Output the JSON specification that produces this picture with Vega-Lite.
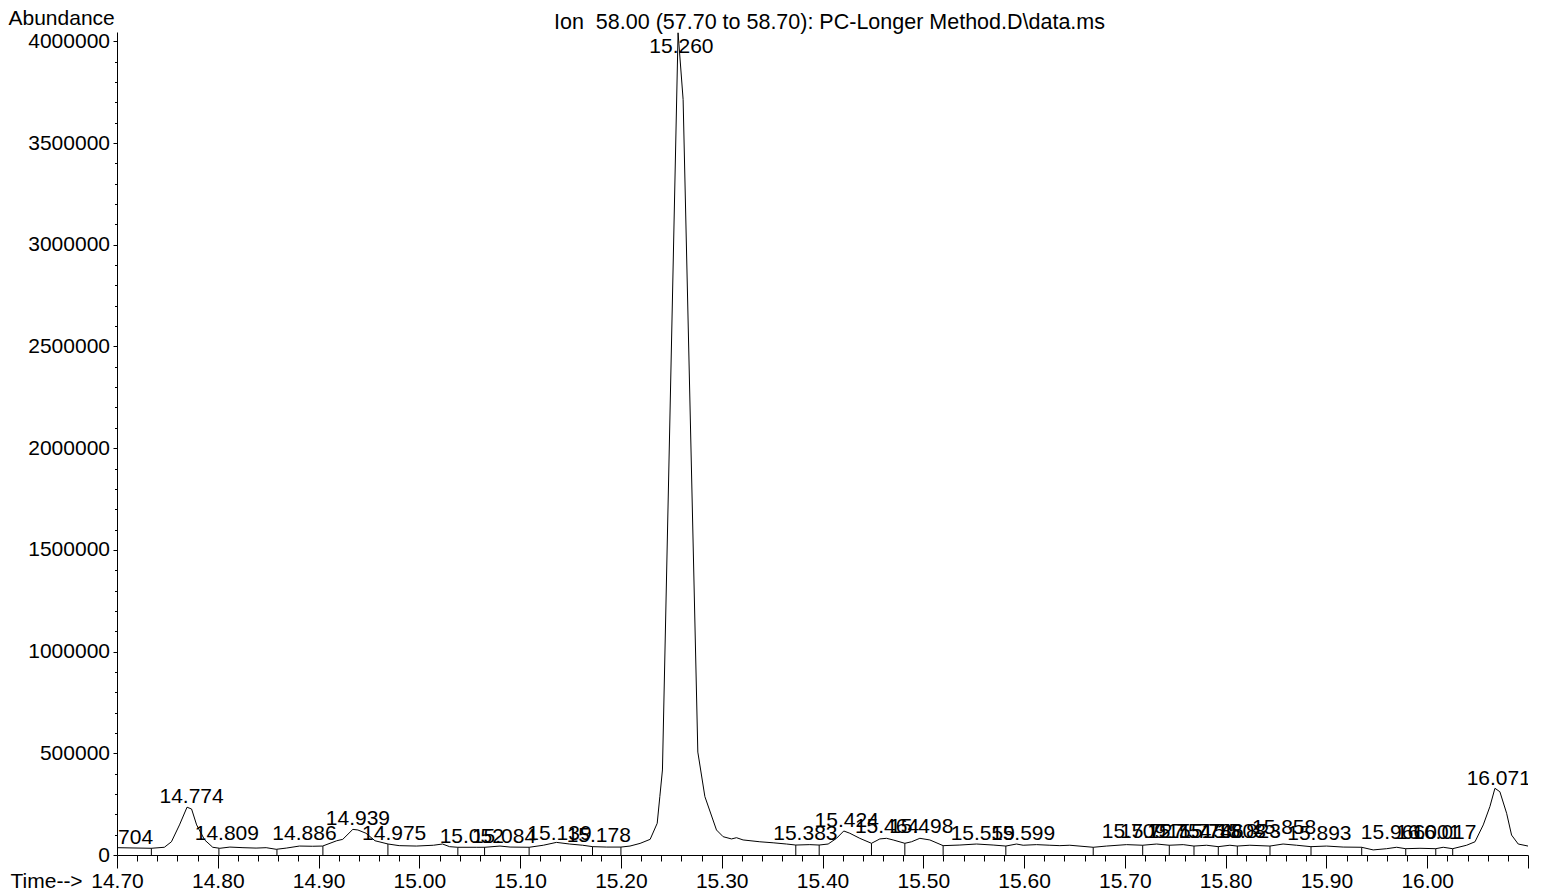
{
  "$schema": "https://vega.github.io/schema/vega-lite/v6.json",
  "width": 1411,
  "height": 823,
  "autosize": {"type": "none"},
  "padding": {"left": 117, "top": 32, "right": 23, "bottom": 39},
  "background": "white",
  "config": {"view": {"stroke": null}, "font": "Liberation Sans"},
  "title": {
    "text": "Ion\u00a0 58.00 (57.70 to 58.70): PC-Longer Method.D\\data.ms",
    "font": "Liberation Sans", "fontSize": 21.5, "fontWeight": "normal", "color": "black",
    "anchor": "middle", "frame": "group", "dx": 7, "dy": 43, "offset": 0, "baseline": "alphabetic"
  },
  "datasets": {
    "trace": [
      {"t":14.700,"a":36000},{"t":14.734,"a":33000},{"t":14.747,"a":38000},{"t":14.754,"a":65000},{"t":14.762,"a":148000},{"t":14.7695,"a":235000},{"t":14.774,"a":226000},{"t":14.779,"a":148000},{"t":14.787,"a":74000},{"t":14.795,"a":38000},{"t":14.802,"a":33000},{"t":14.812,"a":39000},{"t":14.825,"a":36000},{"t":14.838,"a":34000},{"t":14.848,"a":36000},{"t":14.858,"a":28000},{"t":14.868,"a":34000},{"t":14.881,"a":44000},{"t":14.894,"a":43000},{"t":14.904,"a":44000},{"t":14.918,"a":70000},{"t":14.924,"a":77000},{"t":14.934,"a":126000},{"t":14.939,"a":123000},{"t":14.947,"a":107000},{"t":14.956,"a":70000},{"t":14.969,"a":54000},{"t":14.980,"a":46000},{"t":14.997,"a":44000},{"t":15.014,"a":48000},{"t":15.023,"a":54000},{"t":15.030,"a":41000},{"t":15.038,"a":38000},{"t":15.057,"a":38000},{"t":15.065,"a":38000},{"t":15.080,"a":44000},{"t":15.090,"a":39000},{"t":15.109,"a":38000},{"t":15.123,"a":48000},{"t":15.136,"a":62000},{"t":15.149,"a":54000},{"t":15.162,"a":48000},{"t":15.172,"a":41000},{"t":15.186,"a":39000},{"t":15.200,"a":39000},{"t":15.209,"a":44000},{"t":15.219,"a":57000},{"t":15.229,"a":77000},{"t":15.236,"a":156000},{"t":15.2386,"a":287000},{"t":15.2412,"a":418000},{"t":15.2567,"a":4042000},{"t":15.2617,"a":3714000},{"t":15.2763,"a":506000},{"t":15.2833,"a":287000},{"t":15.2948,"a":123000},{"t":15.3014,"a":90000},{"t":15.3097,"a":79000},{"t":15.3147,"a":85000},{"t":15.3212,"a":74000},{"t":15.3378,"a":65000},{"t":15.3510,"a":60000},{"t":15.3643,"a":54000},{"t":15.3735,"a":49000},{"t":15.3874,"a":51000},{"t":15.3966,"a":49000},{"t":15.4056,"a":54000},{"t":15.4139,"a":82000},{"t":15.4211,"a":118000},{"t":15.4271,"a":107000},{"t":15.4370,"a":82000},{"t":15.4486,"a":57500},{"t":15.4569,"a":79000},{"t":15.4635,"a":82000},{"t":15.4701,"a":74000},{"t":15.4817,"a":57500},{"t":15.4883,"a":65000},{"t":15.4966,"a":82000},{"t":15.5065,"a":74000},{"t":15.5197,"a":46000},{"t":15.5363,"a":49000},{"t":15.5528,"a":54000},{"t":15.5693,"a":49000},{"t":15.5819,"a":44000},{"t":15.5925,"a":54000},{"t":15.5991,"a":48000},{"t":15.6124,"a":51000},{"t":15.6256,"a":48000},{"t":15.6355,"a":46000},{"t":15.6454,"a":48000},{"t":15.6686,"a":38000},{"t":15.6818,"a":44000},{"t":15.7017,"a":51000},{"t":15.7176,"a":48000},{"t":15.7315,"a":54000},{"t":15.7440,"a":48000},{"t":15.7579,"a":51000},{"t":15.7685,"a":44000},{"t":15.7811,"a":48000},{"t":15.7926,"a":41000},{"t":15.8042,"a":48000},{"t":15.8114,"a":44000},{"t":15.8240,"a":48000},{"t":15.8439,"a":44000},{"t":15.8570,"a":54000},{"t":15.8704,"a":48000},{"t":15.8846,"a":41000},{"t":15.9001,"a":44000},{"t":15.9166,"a":39000},{"t":15.9349,"a":38000},{"t":15.9464,"a":25000},{"t":15.9597,"a":31000},{"t":15.9697,"a":38000},{"t":15.9786,"a":31000},{"t":15.9928,"a":33000},{"t":16.0084,"a":31000},{"t":16.0159,"a":38000},{"t":16.0252,"a":31000},{"t":16.0391,"a":48000},{"t":16.0474,"a":65000},{"t":16.0556,"a":148000},{"t":16.0622,"a":238000},{"t":16.0672,"a":328000},{"t":16.0721,"a":311000},{"t":16.0788,"a":205000},{"t":16.0837,"a":98000},{"t":16.0903,"a":54000},{"t":16.1000,"a":44000}
    ],
    "bounds": [
      {"t":14.7341,"a":33000},{"t":14.8011,"a":33000},{"t":14.8587,"a":28000},{"t":14.9043,"a":44000},{"t":14.9688,"a":54000},{"t":15.0382,"a":38000},{"t":15.0647,"a":38000},{"t":15.1089,"a":38000},{"t":15.1718,"a":41000},{"t":15.2000,"a":39000},{"t":15.3735,"a":49000},{"t":15.3967,"a":49000},{"t":15.4486,"a":57500},{"t":15.4817,"a":57500},{"t":15.5197,"a":45700},{"t":15.5819,"a":44300},{"t":15.6686,"a":38000},{"t":15.7177,"a":48000},{"t":15.7441,"a":48000},{"t":15.7686,"a":44000},{"t":15.7927,"a":41000},{"t":15.8116,"a":44000},{"t":15.8440,"a":44000},{"t":15.8847,"a":41000},{"t":15.9350,"a":38000},{"t":15.9787,"a":31000},{"t":16.0085,"a":31000},{"t":16.0253,"a":31000}
    ],
    "peaks": [
      {"t":14.704,"height":29500},{"t":14.774,"height":232700},{"t":14.809,"height":49200},{"t":14.886,"height":49200},{"t":14.939,"height":123000},{"t":14.975,"height":49200},{"t":15.052,"height":34400},{"t":15.084,"height":34400},{"t":15.139,"height":49200},{"t":15.178,"height":40800},{"t":15.260,"height":4042000},{"t":15.383,"height":49200},{"t":15.424,"height":114600},{"t":15.464,"height":83600},{"t":15.498,"height":83600},{"t":15.559,"height":49200},{"t":15.599,"height":49200},{"t":15.709,"height":59000},{"t":15.727,"height":59000},{"t":15.754,"height":59000},{"t":15.774,"height":59000},{"t":15.786,"height":59000},{"t":15.808,"height":59000},{"t":15.823,"height":59000},{"t":15.858,"height":78700},{"t":15.893,"height":49200},{"t":15.966,"height":54100},{"t":16.001,"height":54100},{"t":16.017,"height":54100},{"t":16.071,"height":319700}
    ]
  },
  "encoding": {
    "x": {
      "field": "t", "type": "quantitative",
      "scale": {"domain": [14.7, 16.1], "zero": false, "nice": false},
      "axis": {
        "orient": "bottom",
        "values": [14.70,14.72,14.74,14.76,14.78,14.80,14.82,14.84,14.86,14.88,14.90,14.92,14.94,14.96,14.98,15.00,15.02,15.04,15.06,15.08,15.10,15.12,15.14,15.16,15.18,15.20,15.22,15.24,15.26,15.28,15.30,15.32,15.34,15.36,15.38,15.40,15.42,15.44,15.46,15.48,15.50,15.52,15.54,15.56,15.58,15.60,15.62,15.64,15.66,15.68,15.70,15.72,15.74,15.76,15.78,15.80,15.82,15.84,15.86,15.88,15.90,15.92,15.94,15.96,15.98,16.00,16.02,16.04,16.06,16.08,16.10],
        "labelExpr": "abs(datum.value*10 - round(datum.value*10)) < 0.01 && datum.value < 16.05 ? format(datum.value, '.2f') : ''",
        "labelFlush": false, "labelOverlap": false, "labelBound": false,
        "labelFont": "Liberation Sans", "labelFontSize": 21, "labelColor": "black",
        "labelBaseline": "alphabetic", "labelPadding": 19,
        "tickSize": {"condition": {"test": "abs(datum.value*10 - round(datum.value*10)) < 0.01", "value": 13}, "value": 6},
        "tickColor": "black", "tickWidth": 1, "domainColor": "black", "domainWidth": 1, "grid": false,
        "title": "Time-->", "titleX": -107, "titleY": 32, "titleAlign": "left", "titleBaseline": "alphabetic",
        "titleFont": "Liberation Sans", "titleFontSize": 21, "titleFontWeight": "normal", "titleColor": "black"
      }
    },
    "y": {
      "field": "a", "type": "quantitative",
      "scale": {"domain": [0, 4046000], "nice": false, "zero": true},
      "axis": {
        "values": [0,100000,200000,300000,400000,500000,600000,700000,800000,900000,1000000,1100000,1200000,1300000,1400000,1500000,1600000,1700000,1800000,1900000,2000000,2100000,2200000,2300000,2400000,2500000,2600000,2700000,2800000,2900000,3000000,3100000,3200000,3300000,3400000,3500000,3600000,3700000,3800000,3900000,4000000],
        "labelExpr": "datum.value % 500000 === 0 ? format(datum.value, 'd') : ''",
        "labelFlush": false, "labelOverlap": false, "labelBound": false,
        "labelFont": "Liberation Sans", "labelFontSize": 21, "labelColor": "black", "labelPadding": 3.5,
        "tickSize": {"condition": {"test": "datum.value % 500000 === 0", "value": 4}, "value": 2.5},
        "tickColor": "black", "tickWidth": 1, "domainColor": "black", "domainWidth": 1, "grid": false,
        "title": "Abundance", "titleAngle": 0, "titleX": -109, "titleY": -8, "titleAlign": "left", "titleBaseline": "alphabetic",
        "titleFont": "Liberation Sans", "titleFontSize": 21, "titleFontWeight": "normal", "titleColor": "black"
      }
    }
  },
  "layer": [
    {
      "data": {"name": "trace"},
      "mark": {"type": "line", "color": "black", "strokeWidth": 1, "clip": true},
      "encoding": {}
    },
    {
      "data": {"name": "bounds"},
      "mark": {"type": "rule", "color": "black", "strokeWidth": 1},
      "encoding": {"y2": {"datum": 0}}
    },
    {
      "data": {"name": "peaks"},
      "transform": [{"calculate": "min(datum.height, 3920000)", "as": "a"}],
      "mark": {"type": "text", "font": "Liberation Sans", "fontSize": 21, "color": "black", "align": "center", "baseline": "alphabetic", "dy": -5, "clip": true},
      "encoding": {
        "text": {"field": "t", "type": "quantitative", "format": ".3f"}
      }
    }
  ]
}
